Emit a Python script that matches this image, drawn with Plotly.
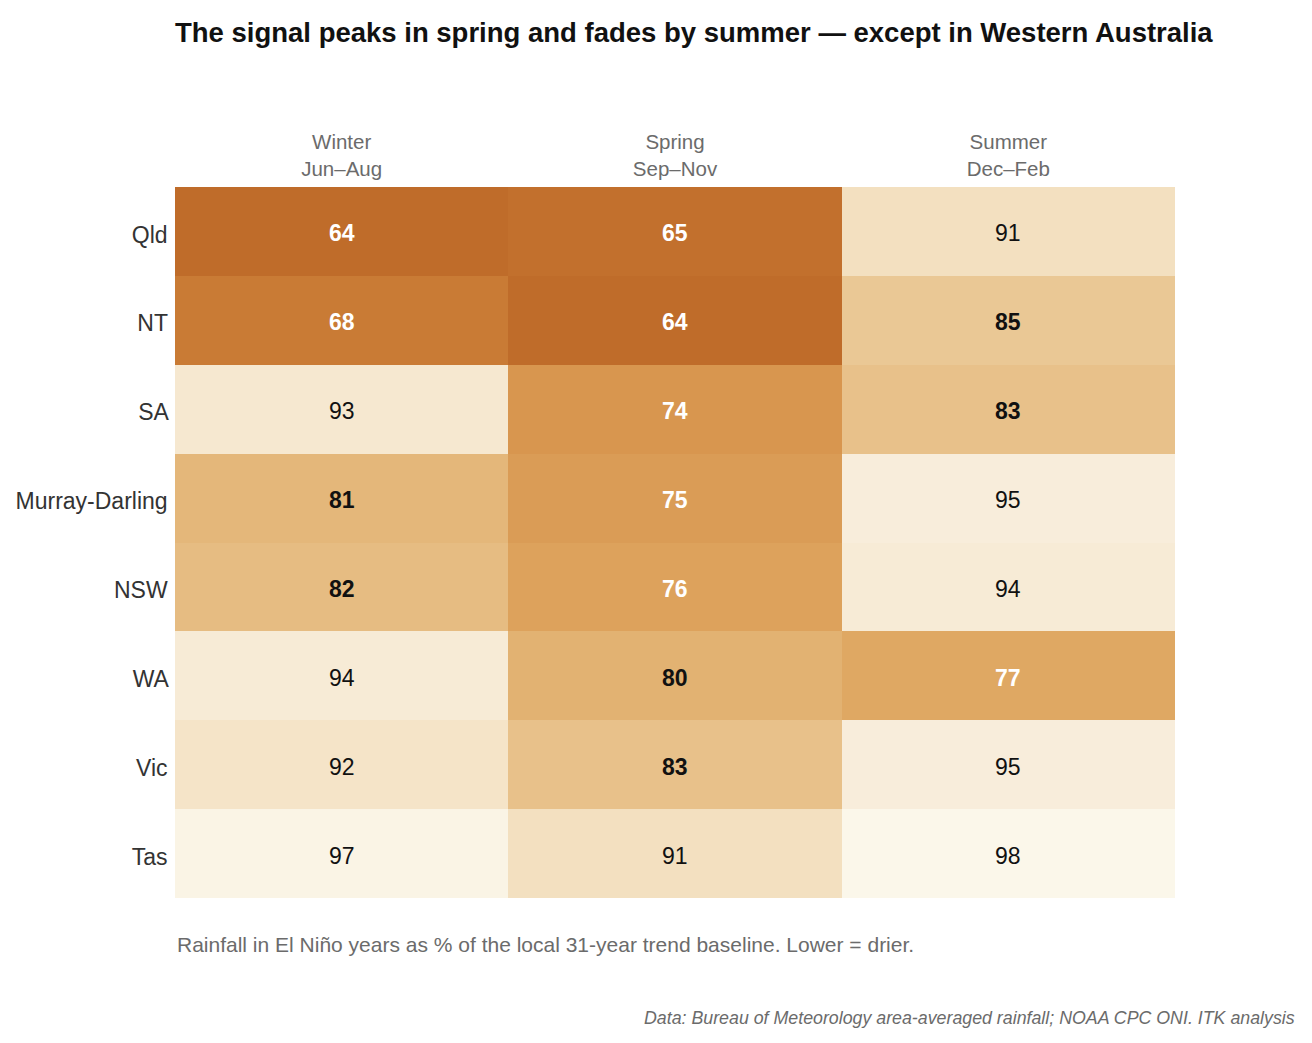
import plotly.graph_objects as go

# Rainfall in El Nino years as % of local trend baseline
regions = ["Qld", "NT", "SA", "Murray-Darling", "NSW", "WA", "Vic", "Tas"]
seasons = ["Winter<br>Jun–Aug", "Spring<br>Sep–Nov", "Summer<br>Dec–Feb"]
winter = [64, 68, 93, 81, 82, 94, 92, 97]
spring = [65, 64, 74, 75, 76, 80, 83, 91]
summer = [91, 85, 83, 95, 94, 77, 95, 98]

z = [[w, sp, su] for w, sp, su in zip(winter, spring, summer)]

# colour ramp (value -> colour)
ramp = [
    (64, "#BF6C2A"), (68, "#C97B35"), (74, "#D8964F"), (77, "#DFA863"),
    (80, "#E2B272"), (83, "#E8C18A"), (85, "#EAC895"), (91, "#F3E0C0"),
    (93, "#F6E8D0"), (95, "#F8EDDB"), (98, "#FBF7EA"),
]
zmin, zmax = ramp[0][0], ramp[-1][0]
colorscale = [[(v - zmin) / (zmax - zmin), c] for v, c in ramp]

fig = go.Figure(go.Heatmap(
    z=z, x=seasons, y=regions,
    colorscale=colorscale, zmin=zmin, zmax=zmax,
    showscale=False, xgap=0, ygap=0,
    hoverinfo="skip",
))

# cell labels: bold when notably dry, white on the darkest cells
for i, reg in enumerate(regions):
    for j, sea in enumerate(seasons):
        v = z[i][j]
        txt = f"<b>{v}</b>" if v < 88 else str(v)
        col = "white" if v < 79 else "#111111"
        fig.add_annotation(x=sea, y=reg, text=txt, showarrow=False, yshift=-2,
                           font=dict(size=23, color=col))

fig.add_annotation(
    xref="paper", yref="paper", x=0, y=-0.065, xanchor="left", yanchor="middle",
    text="Rainfall in El Niño years as % of the local 31-year trend baseline. Lower = drier.",
    showarrow=False, font=dict(size=21, color="#6b6b6b"))
fig.add_annotation(
    xref="paper", yref="paper", x=1.122, y=-0.169, xanchor="right", yanchor="middle",
    text="<i>Data: Bureau of Meteorology area-averaged rainfall; NOAA CPC ONI. ITK analysis</i>",
    showarrow=False, font=dict(size=17.8, color="#6b6b6b"))

fig.update_layout(
    width=1312, height=1043,
    margin=dict(l=167, r=145, t=179, b=153),
    paper_bgcolor="white", plot_bgcolor="white",
    font=dict(family="Liberation Sans, Arial, sans-serif"),
    title=dict(text="<b>The signal peaks in spring and fades by summer — except in Western Australia</b>",
               x=167 / 1312, xanchor="left", xref="container",
               y=1 - 24 / 1043, yanchor="middle", yref="container",
               font=dict(size=27.5, color="#111111")),
    xaxis=dict(side="top", showgrid=False, zeroline=False, ticks="",
               automargin=False, ticklabelstandoff=6,
               tickfont=dict(size=20.5, color="#6b6b6b")),
    yaxis=dict(autorange="reversed", showgrid=False, zeroline=False, ticks="",
               automargin=False, ticklabelshift=-3,
               ticksuffix=" ", tickfont=dict(size=23, color="#333333")),
)

fig.write_html("out.html")
